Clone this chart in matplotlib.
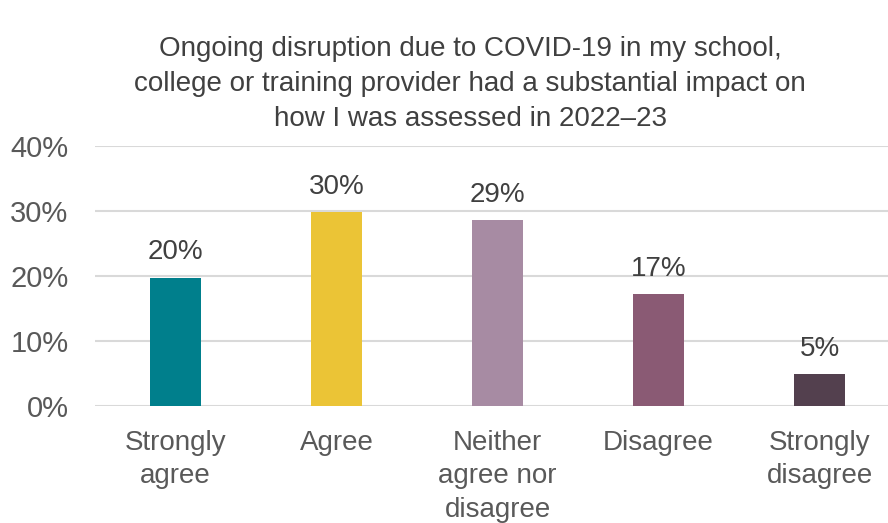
import matplotlib.pyplot as plt
from matplotlib.ticker import FuncFormatter

plt.rcParams['font.family'] = ['Liberation Sans', 'DejaVu Sans']

categories = ['Strongly\nagree', 'Agree', 'Neither\nagree nor\ndisagree', 'Disagree', 'Strongly\ndisagree']
values = [19.7, 29.8, 28.6, 17.2, 4.9]
colors = ['#007F8C', '#EBC436', '#A78BA3', '#8A5A74', '#53404E']
title = ('Ongoing disruption due to COVID-19 in my school,\n'
         'college or training provider had a substantial impact on\n'
         'how I was assessed in 2022\u201323')

fig = plt.figure(figsize=(8.88, 5.23), dpi=100)
ax = fig.add_axes([95 / 888, 1 - 406 / 523, 793 / 888, 260 / 523])

x = range(len(categories))
ax.bar(x, values, width=0.32, color=colors, zorder=3)

for xi, v in zip(x, values):
    ax.annotate(f'{v:.0f}%', (xi, v), xytext=(0, 9), textcoords='offset points',
                ha='center', va='bottom', fontsize=20, color='#404040')

ax.set_ylim(0, 40)
ax.set_xlim(-0.5, -0.5 + 793 / 161)
ax.set_yticks([0, 10, 20, 30, 40])
ax.yaxis.set_major_formatter(FuncFormatter(lambda v, p: f'{v:.0f}%'))
ax.grid(axis='y', color='#D9D9D9', linewidth=1.5, zorder=0)

ax.set_xticks(list(x))
ax.set_xticklabels(categories, fontsize=20, color='#595959', linespacing=1.38)
ax.tick_params(axis='y', labelsize=21, labelcolor='#595959', length=0, pad=19)
ax.tick_params(axis='x', length=0, pad=17)

for side in ['top', 'right', 'left', 'bottom']:
    ax.spines[side].set_visible(False)

fig.text(470 / 888, 1 - 84 / 523, title, ha='center', va='center', fontsize=20,
         color='#404040', linespacing=1.46)

fig.savefig('out.png', dpi=100)
